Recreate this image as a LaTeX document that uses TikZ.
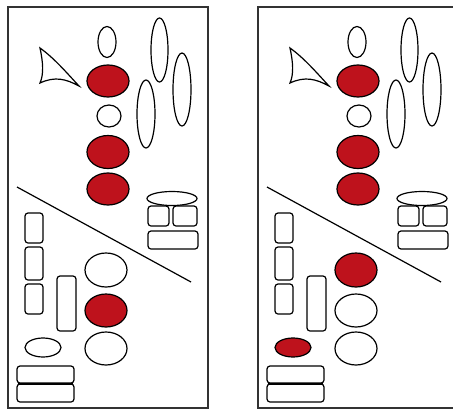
\documentclass[tikz,border=0pt]{standalone}
\definecolor{diagred}{RGB}{190,18,28}
\tikzset{
  outl/.style={draw=black, line width=1.2pt},
  redfill/.style={outl, fill=diagred},
  whitefill/.style={outl, fill=white},
  rbox/.style={outl, rounded corners=3pt},
  panelframe/.style={draw=black!80, line width=2pt},
}
% One panel; the arguments are the fills of the three lower discs and of the small ellipse
\newcommand\drawpanel[4]{%
  \draw[panelframe] (7.5,6.5) rectangle (207.5,407.5);
  % sail-shaped triangle
  \draw[outl, line join=miter]
    (40,48) .. controls (43,62) and (44,74) .. (40,83)
            .. controls (55,76) and (66,79) .. (79,86)
            .. controls (66,72) and (54,58) .. (40,48) -- cycle;
  % central column
  \draw[whitefill] (107,42) ellipse [x radius=9pt, y radius=15.5pt];
  \draw[redfill] (108,81) ellipse [x radius=21pt, y radius=16pt];
  \draw[whitefill] (109,116) ellipse [x radius=12pt, y radius=11pt];
  \draw[redfill] (108,152) ellipse [x radius=21pt, y radius=16.5pt];
  \draw[redfill] (108,189) ellipse [x radius=21pt, y radius=16pt];
  % tall ellipses
  \draw[whitefill] (159.5,50) ellipse [x radius=8.5pt, y radius=32pt];
  \draw[whitefill] (182,89.5) ellipse [x radius=9pt, y radius=36.5pt];
  \draw[whitefill] (146,114) ellipse [x radius=9pt, y radius=34pt];
  % dividing line
  \draw[outl] (17,187) -- (191,282);
  % stack on the right
  \draw[whitefill] (172,198.5) ellipse [x radius=25pt, y radius=7pt];
  \draw[rbox] (148,206) rectangle (169,226);
  \draw[rbox] (173,206) rectangle (197,226);
  \draw[rbox] (148,231) rectangle (198,249);
  % left column of boxes
  \draw[rbox] (25,213) rectangle (43,243);
  \draw[rbox] (25,247) rectangle (43,280);
  \draw[rbox] (25,284) rectangle (43,314);
  \draw[rbox] (57,276) rectangle (76,331);
  % lower discs
  \draw[outl, fill=#1] (106,270) ellipse [x radius=21pt, y radius=17pt];
  \draw[outl, fill=#2] (106,310.5) ellipse [x radius=21pt, y radius=16.5pt];
  \draw[outl, fill=#3] (106,348.5) ellipse [x radius=21pt, y radius=16.5pt];
  \draw[outl, fill=#4] (43,347.5) ellipse [x radius=18pt, y radius=9.5pt];
  % bottom pair of boxes
  \draw[rbox] (17,366) rectangle (74,383);
  \draw[rbox] (17,384) rectangle (74,402);
  \draw[line width=2pt] (18,383.5) -- (73,383.5);
}
\begin{document}
\begin{tikzpicture}[x=1pt, y=-1pt]
  \useasboundingbox (0,0) rectangle (453,410);
  \clip (0,0) rectangle (453,410);
  \drawpanel{white}{diagred}{white}{white}
  \begin{scope}[xshift=250pt]
    \drawpanel{diagred}{white}{white}{diagred}
  \end{scope}
\end{tikzpicture}
\end{document}
